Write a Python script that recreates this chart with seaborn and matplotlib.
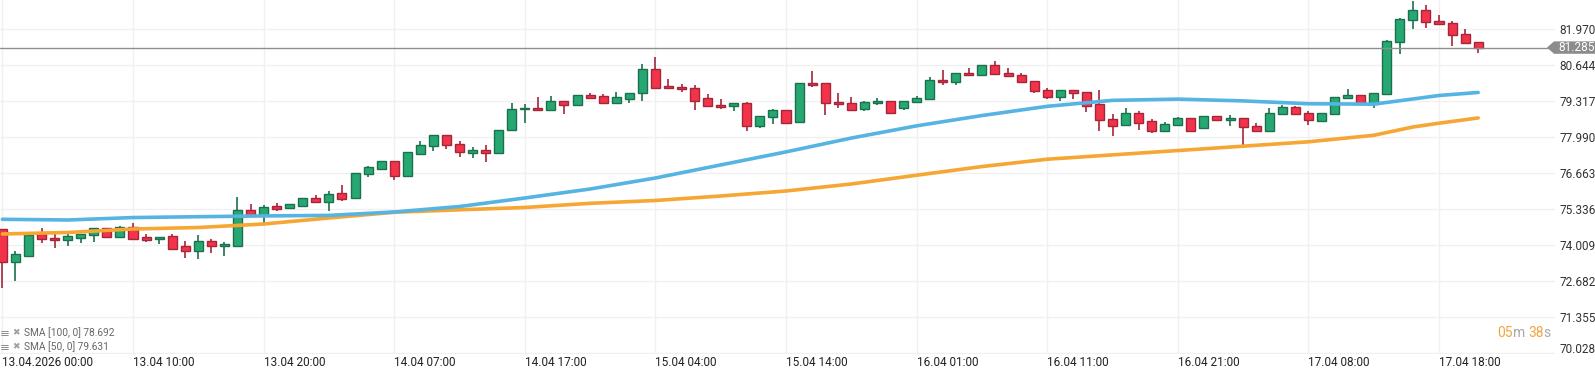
import matplotlib
matplotlib.use("Agg")
import matplotlib.pyplot as plt
import seaborn as sns
import numpy as np
import pandas as pd
from matplotlib.patches import Polygon
from matplotlib.transforms import ScaledTranslation

# ---------------- data ----------------
opens = [74.587, 73.371, 73.614, 74.403, 74.266, 74.182, 74.277, 74.366, 74.624, 74.314,
         74.661, 74.292, 74.218, 74.340, 73.960, 73.798, 74.156, 73.960, 73.982, 75.287,
         75.114, 75.446, 75.361, 75.457, 75.730, 75.582, 75.914, 75.730, 76.614, 76.821,
         77.105, 76.563, 77.374, 77.646, 78.052, 77.720, 77.388, 77.499, 77.388, 78.236,
         79.010, 79.069, 78.973, 79.305, 79.158, 79.526, 79.489, 79.231, 79.401, 79.600,
         80.485, 79.858, 79.821, 79.784, 79.416, 79.158, 79.121, 79.231, 78.384, 78.715,
         78.984, 78.531, 79.969, 79.969, 79.279, 79.231, 79.003, 79.231, 79.305, 79.047,
         79.268, 79.379, 80.079, 80.005, 80.337, 80.263, 80.632, 80.337, 80.263, 80.042,
         79.711, 79.452, 79.711, 79.637, 79.194, 78.642, 78.420, 78.863, 78.568, 78.199,
         78.420, 78.678, 78.310, 78.752, 78.605, 78.678, 78.384, 78.199, 78.826, 79.084,
         78.863, 78.568, 78.826, 79.416, 79.526, 79.194, 79.563, 81.480, 82.291, 82.659,
         82.254, 82.180, 81.775, 81.480]
highs = [74.600, 73.787, 74.390, 74.624, 74.403, 74.414, 74.414, 74.630, 74.635, 74.709,
         74.830, 74.403, 74.300, 74.403, 74.167, 74.377, 74.229, 74.130, 75.789, 75.531,
         75.494, 75.545, 75.520, 75.740, 75.851, 75.999, 76.209, 76.673, 76.920, 77.110,
         77.115, 77.430, 77.842, 78.060, 78.060, 77.842, 77.610, 77.683, 78.240, 79.231,
         79.194, 79.452, 79.500, 79.310, 79.530, 79.600, 79.574, 79.648, 79.610, 80.680,
         80.927, 80.116, 79.932, 79.895, 79.563, 79.379, 79.235, 79.268, 78.760, 79.010,
         78.990, 79.975, 80.415, 79.975, 79.600, 79.452, 79.305, 79.445, 79.310, 79.310,
         79.489, 80.190, 80.448, 80.340, 80.521, 80.640, 80.779, 80.521, 80.337, 80.050,
         79.784, 79.720, 79.720, 79.645, 79.711, 78.826, 79.047, 78.936, 78.642, 78.531,
         78.715, 78.685, 78.760, 78.760, 78.789, 78.685, 78.494, 79.047, 79.158, 79.121,
         78.936, 78.870, 79.460, 79.747, 79.530, 79.600, 81.554, 82.364, 82.990, 82.844,
         82.475, 82.254, 81.959, 81.490]
lows = [72.423, 72.692, 73.555, 74.093, 73.909, 73.982, 74.071, 74.130, 74.277, 74.255,
        74.235, 74.130, 74.045, 73.865, 73.540, 73.481, 73.702, 73.614, 73.970, 75.120,
        74.808, 75.250, 75.350, 75.450, 75.575, 75.273, 75.641, 75.720, 76.526, 76.799,
        76.404, 76.555, 77.326, 77.484, 77.558, 77.263, 77.226, 77.079, 77.380, 78.230,
        78.516, 78.965, 78.965, 78.855, 79.150, 79.410, 79.225, 79.225, 79.231, 79.305,
        79.780, 79.747, 79.637, 78.973, 79.115, 79.010, 78.936, 78.199, 78.310, 78.450,
        78.490, 78.525, 79.821, 78.789, 79.058, 78.966, 78.936, 79.169, 78.837, 78.973,
        79.260, 79.370, 79.895, 79.895, 80.238, 80.260, 80.263, 80.190, 79.969, 79.600,
        79.379, 79.327, 79.379, 78.929, 78.199, 78.015, 78.410, 78.236, 78.126, 78.190,
        78.410, 78.190, 78.300, 78.600, 78.384, 77.683, 78.190, 78.190, 78.820, 78.820,
        78.420, 78.560, 78.820, 79.410, 79.225, 79.047, 79.560, 81.037, 81.959, 81.996,
        82.140, 81.332, 81.440, 81.074]
closes = [73.371, 73.665, 74.377, 74.218, 74.182, 74.340, 74.403, 74.624, 74.314, 74.661,
          74.241, 74.204, 74.292, 73.872, 73.798, 74.156, 73.960, 74.045, 75.287, 75.125,
          75.398, 75.324, 75.508, 75.730, 75.582, 75.877, 75.715, 76.651, 76.872, 77.105,
          76.563, 77.425, 77.683, 78.052, 77.683, 77.425, 77.499, 77.388, 78.236, 79.010,
          79.069, 78.973, 79.305, 79.158, 79.526, 79.416, 79.231, 79.452, 79.600, 80.485,
          79.784, 79.784, 79.747, 79.327, 79.121, 79.084, 79.231, 78.384, 78.752, 78.973,
          78.494, 79.969, 79.895, 79.231, 79.194, 78.995, 79.268, 79.305, 78.863, 79.305,
          79.416, 80.079, 80.005, 80.337, 80.263, 80.632, 80.300, 80.227, 80.005, 79.674,
          79.452, 79.711, 79.600, 79.150, 78.605, 78.413, 78.863, 78.494, 78.199, 78.457,
          78.678, 78.199, 78.752, 78.605, 78.678, 78.347, 78.199, 78.863, 79.084, 78.826,
          78.605, 78.863, 79.452, 79.526, 79.231, 79.600, 81.517, 82.328, 82.659, 82.217,
          82.143, 81.738, 81.443, 81.285]

sma_idx = [0, 5, 10, 15, 20, 25, 30, 35, 40, 45, 50, 55, 60, 65, 70, 75, 80, 85, 90, 95,
           100, 105, 108, 110, 113]
sma50 = [74.956, 74.930, 75.020, 75.051, 75.080, 75.100, 75.225, 75.427, 75.741, 76.072,
         76.478, 76.960, 77.440, 77.950, 78.400, 78.780, 79.120, 79.340, 79.385, 79.320,
         79.215, 79.200, 79.390, 79.519, 79.631]
sma100 = [74.414, 74.469, 74.598, 74.653, 74.782, 75.004, 75.214, 75.306, 75.391, 75.545,
          75.649, 75.814, 75.999, 76.257, 76.580, 76.900, 77.170, 77.330, 77.490, 77.650,
          77.812, 78.052, 78.358, 78.498, 78.692]

x_tick_idx = [0, 10, 20, 30, 40, 50, 60, 70, 80, 90, 100, 110]
x_tick_labels = ["13.04.2026 00:00", "13.04 10:00", "13.04 20:00", "14.04 07:00",
                 "14.04 17:00", "15.04 04:00", "15.04 14:00", "16.04 01:00",
                 "16.04 11:00", "16.04 21:00", "17.04 08:00", "17.04 18:00"]
y_ticks = [70.028, 71.355, 72.682, 74.009, 75.336, 76.663, 77.990, 79.317, 80.644, 81.970]
y_tick_labels = ["70.028", "71.355", "72.682", "74.009", "75.336", "76.663", "77.990",
                 "79.317", "80.644", "81.970"]
last_price = 81.285
legend_lines = ["SMA [100, 0] 78.692", "SMA [50, 0] 79.631"]
timer_parts = ["05", "m", "38", "s"]

# ---------------- style ----------------
sns.set_theme(style="white")
plt.rcParams["font.family"] = ["Roboto", "DejaVu Sans"]

W, H = 1595, 377
fig = plt.figure(figsize=(W / 100, H / 100), dpi=100)
ax_bottom_px = 354
ax_right_px = 1555
ax = fig.add_axes([0, 1 - ax_bottom_px / H, ax_right_px / W, ax_bottom_px / H])
fig.patch.set_facecolor("white")
ax.set_facecolor("white")

df = pd.DataFrame({"o": opens, "h": highs, "l": lows, "c": closes})
df["i"] = np.arange(len(df))
df["up"] = df["c"] >= df["o"]

GREEN_F, GREEN_E = "#27a873", "#1b704e"
RED_F, RED_E = "#f2334a", "#a3263a"

edge = np.where(df["up"], GREEN_E, RED_E)
face = np.where(df["up"], GREEN_F, RED_F)

ax.vlines(df["i"], df["l"], df["h"], colors=edge, linewidth=1.2, zorder=2)
body_bottom = np.minimum(df["o"], df["c"])
body_h = np.maximum(np.abs(df["c"] - df["o"]), 0.03)
ax.bar(df["i"], body_h, bottom=body_bottom, width=0.69, color=face,
       edgecolor=edge, linewidth=1.0, zorder=3)

sma_df = pd.DataFrame({"i": sma_idx, "sma50": sma50, "sma100": sma100})
sns.lineplot(data=sma_df, x="i", y="sma100", ax=ax, color="#f6a632", linewidth=2.6,
             zorder=4, solid_joinstyle="round")
sns.lineplot(data=sma_df, x="i", y="sma50", ax=ax, color="#55b4e2", linewidth=2.6,
             zorder=5, solid_joinstyle="round")

ax.axhline(last_price, color="#8f8f8f", linewidth=1.0, zorder=6)

# axes scaling
step_px = 13.06
x0_px = 2.4
ax.set_xlim((0 - x0_px) / step_px, (ax_right_px - x0_px) / step_px)
ppu = 27.13
ymax = 81.970 + 29 / ppu
ymin = 81.970 - (ax_bottom_px - 29) / ppu
ax.set_ylim(ymin, ymax)

ax.set_xticks(x_tick_idx)
ax.set_xticklabels(x_tick_labels)
ax.set_yticks(y_ticks)
ax.set_yticklabels(y_tick_labels)
ax.yaxis.tick_right()
ax.set_xlabel("")
ax.set_ylabel("")
ax.tick_params(axis="x", length=0, pad=1.5, labelsize=8.5, labelcolor="#222222")
ax.tick_params(axis="y", length=0, pad=3, labelsize=8.5, labelcolor="#333333")
for lbl in ax.get_xticklabels():
    lbl.set_horizontalalignment("left")
ylbls = ax.get_yticklabels()
ylbls[0].set_transform(ylbls[0].get_transform() + ScaledTranslation(0, 5 / 100, fig.dpi_scale_trans))

ax.grid(True, color="#f0f0f0", linewidth=1.0)
ax.set_axisbelow(True)
for s in ax.spines.values():
    s.set_visible(False)
if ax.get_legend():
    ax.get_legend().remove()


def fx(px):
    return px / W


def fy(py):
    return 1 - py / H


# price tag
py = (ymax - last_price) * ppu
tag = Polygon([(fx(1547), fy(py)), (fx(1554), fy(py - 6.2)), (fx(1595), fy(py - 6.2)),
               (fx(1595), fy(py + 6.2)), (fx(1554), fy(py + 6.2))],
              closed=True, transform=fig.transFigure, facecolor="#8c8c8c",
              edgecolor="none", zorder=10)
fig.add_artist(tag)
fig.text(fx(1558), fy(py), f"{last_price:.3f}", color="white", fontsize=8.5,
         va="center", ha="left", zorder=11)

# legend texts bottom-left
for k, (txt, ypx) in enumerate(zip(legend_lines, [333, 347])):
    fig.text(fx(0), fy(ypx), "\u2261", color="#909090", fontsize=8.5,
             va="center", ha="left", family=["DejaVu Sans"])
    fig.text(fx(12), fy(ypx), "\u2716", color="#a0a0a0", fontsize=6.5,
             va="center", ha="left", family=["DejaVu Sans"])
    fig.text(fx(24), fy(ypx), txt, color="#666666", fontsize=7.3, va="center", ha="left")

# timer
timer_x = [1497, 1513, 1528, 1543]
timer_c = ["#f2a540", "#a8a8a8", "#f2a540", "#a8a8a8"]
for t, xp, c in zip(timer_parts, timer_x, timer_c):
    fig.text(fx(xp), fy(333), t, color=c, fontsize=10, va="center", ha="left")

fig.savefig("out.png", dpi=100, facecolor="white")
